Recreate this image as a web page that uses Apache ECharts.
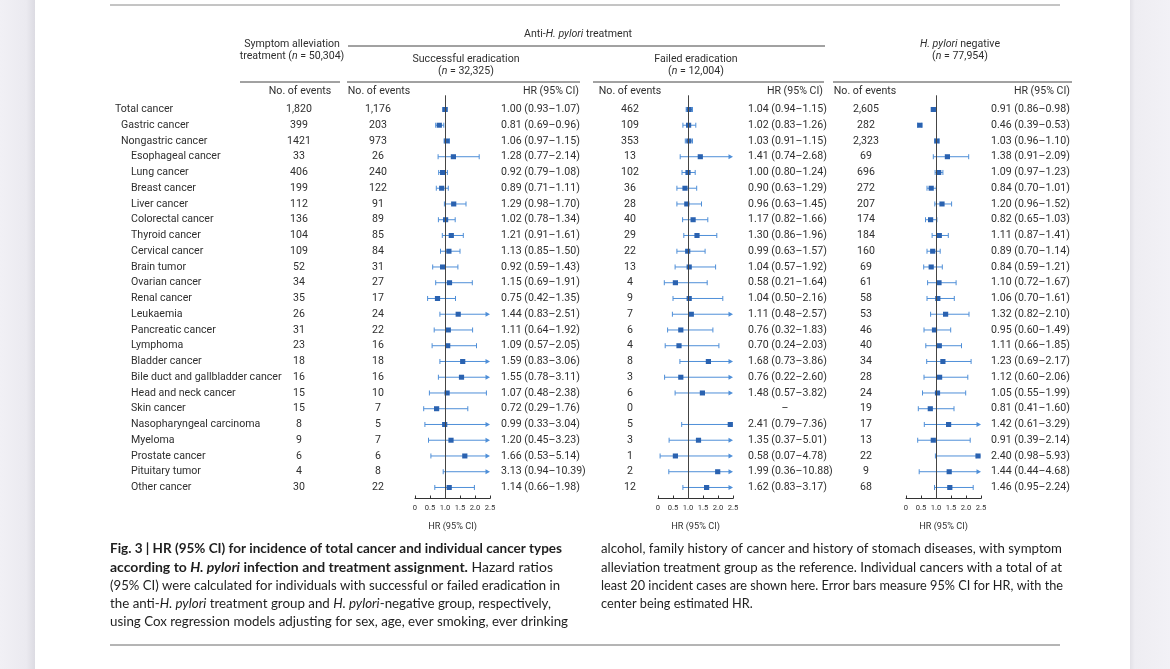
<!DOCTYPE html>
<html><head><meta charset="utf-8">
<script src="https://cdn.jsdelivr.net/npm/echarts@6/dist/echarts.min.js"></script>
<style>html,body{margin:0;padding:0;background:#fff}#c{width:1170px;height:669px}</style>
</head><body><div id="c"></div>
<script>
// ---------------- DATA ----------------
const cancerTypes = ['Total cancer','Gastric cancer','Nongastric cancer','Esophageal cancer','Lung cancer','Breast cancer','Liver cancer','Colorectal cancer','Thyroid cancer','Cervical cancer','Brain tumor','Ovarian cancer','Renal cancer','Leukaemia','Pancreatic cancer','Lymphoma','Bladder cancer','Bile duct and gallbladder cancer','Head and neck cancer','Skin cancer','Nasopharyngeal carcinoma','Myeloma','Prostate cancer','Pituitary tumor','Other cancer'];
const indentLevels = [0,1,1,2,2,2,2,2,2,2,2,2,2,2,2,2,2,2,2,2,2,2,2,2,2];
const symptomEvents = ['1,820','399','1421','33','406','199','112','136','104','109','52','34','35','26','31','23','18','16','15','15','8','9','6','4','30'];
const successEvents = ['1,176','203','973','26','240','122','91','89','85','84','31','27','17','24','22','16','18','16','10','7','5','7','6','8','22'];
const successHR = [[1.00,0.93,1.07],[0.81,0.69,0.96],[1.06,0.97,1.15],[1.28,0.77,2.14],[0.92,0.79,1.08],[0.89,0.71,1.11],[1.29,0.98,1.70],[1.02,0.78,1.34],[1.21,0.91,1.61],[1.13,0.85,1.50],[0.92,0.59,1.43],[1.15,0.69,1.91],[0.75,0.42,1.35],[1.44,0.83,2.51],[1.11,0.64,1.92],[1.09,0.57,2.05],[1.59,0.83,3.06],[1.55,0.78,3.11],[1.07,0.48,2.38],[0.72,0.29,1.76],[0.99,0.33,3.04],[1.20,0.45,3.23],[1.66,0.53,5.14],[3.13,0.94,10.39],[1.14,0.66,1.98]];
const failedEvents = ['462','109','353','13','102','36','28','40','29','22','13','4','9','7','6','4','8','3','6','0','5','3','1','2','12'];
const failedHR = [[1.04,0.94,1.15],[1.02,0.83,1.26],[1.03,0.91,1.15],[1.41,0.74,2.68],[1.00,0.80,1.24],[0.90,0.63,1.29],[0.96,0.63,1.45],[1.17,0.82,1.66],[1.30,0.86,1.96],[0.99,0.63,1.57],[1.04,0.57,1.92],[0.58,0.21,1.64],[1.04,0.50,2.16],[1.11,0.48,2.57],[0.76,0.32,1.83],[0.70,0.24,2.03],[1.68,0.73,3.86],[0.76,0.22,2.60],[1.48,0.57,3.82],null,[2.41,0.79,7.36],[1.35,0.37,5.01],[0.58,0.07,4.78],[1.99,0.36,10.88],[1.62,0.83,3.17]];
const negativeEvents = ['2,605','282','2,323','69','696','272','207','174','184','160','69','61','58','53','46','40','34','28','24','19','17','13','22','9','68'];
const negativeHR = [[0.91,0.86,0.98],[0.46,0.39,0.53],[1.03,0.96,1.10],[1.38,0.91,2.09],[1.09,0.97,1.23],[0.84,0.70,1.01],[1.20,0.96,1.52],[0.82,0.65,1.03],[1.11,0.87,1.41],[0.89,0.70,1.14],[0.84,0.59,1.21],[1.10,0.72,1.67],[1.06,0.70,1.61],[1.32,0.82,2.10],[0.95,0.60,1.49],[1.11,0.66,1.85],[1.23,0.69,2.17],[1.12,0.60,2.06],[1.05,0.55,1.99],[0.81,0.41,1.60],[1.42,0.61,3.29],[0.91,0.39,2.14],[2.40,0.98,5.93],[1.44,0.44,4.68],[1.46,0.95,2.24]];
const hrTickLabels = ['0','0.5','1.0','1.5','2.0','2.5'];
const hrAxisMax = 2.5;

// ---------------- STYLE / LAYOUT ----------------
const FONT = 'Roboto';
const FS = 10.6;
const TXT = '#2f2f2f';
const LINE_BLUE = '#4f8fd8';
const MARK_BLUE = '#2a62b0';
const gridTop = 95.3, gridHeight = 403.2;
const panelLefts = [415, 658, 906];
const panelWidth = 75;

function hrText(h){ return h ? h[0].toFixed(2)+' ('+h[1].toFixed(2)+'\u2013'+h[2].toFixed(2)+')' : null; }

function forestItem(params, api){
  const row = api.value(0), hr = api.value(1), lo = api.value(2), hi = api.value(3);
  const pLo = api.coord([lo,row]);
  const pHi = api.coord([Math.min(hi,hrAxisMax),row]);
  const y = pLo[1];
  const ch = [];
  const arrow = hi > hrAxisMax;
  ch.push({type:'line',shape:{x1:pLo[0],y1:y,x2:arrow?pHi[0]-3:pHi[0],y2:y},style:{stroke:LINE_BLUE,lineWidth:1}});
  ch.push({type:'line',shape:{x1:pLo[0],y1:y-2.5,x2:pLo[0],y2:y+2.5},style:{stroke:LINE_BLUE,lineWidth:1}});
  if(arrow){
    ch.push({type:'polygon',shape:{points:[[pHi[0],y],[pHi[0]-4.5,y-2.6],[pHi[0]-4.5,y+2.6]]},style:{fill:LINE_BLUE}});
  } else {
    ch.push({type:'line',shape:{x1:pHi[0],y1:y-2.5,x2:pHi[0],y2:y+2.5},style:{stroke:LINE_BLUE,lineWidth:1}});
  }
  if(hr <= hrAxisMax){
    const p = api.coord([hr,row]);
    ch.push({type:'rect',shape:{x:p[0]-2.6,y:y-2.5,width:5.2,height:5},style:{fill:MARK_BLUE}});
  }
  return {type:'group',children:ch};
}

function txt(x,y,text,align,extra){
  return Object.assign({type:'text',x:x,y:y,silent:true,style:{text:text,fill:TXT,fontSize:FS,fontFamily:FONT,align:align||'left',textAlign:align||'left',verticalAlign:'middle',textVerticalAlign:'middle'}},extra||{});
}

function tableItem(params, api){
  const i = api.value(1);
  const y = api.coord([0,i])[1];
  const ch = [];
  const indentX = [115,121,131];
  ch.push(txt(indentX[indentLevels[i]], y, cancerTypes[i], 'left'));
  ch.push(txt(299, y, symptomEvents[i], 'center'));
  ch.push(txt(378, y, successEvents[i], 'center'));
  ch.push(txt(501, y, hrText(successHR[i]), 'left'));
  ch.push(txt(630, y, failedEvents[i], 'center'));
  const ft = hrText(failedHR[i]);
  ch.push(ft ? txt(748, y, ft, 'left') : txt(785, y, '\u2013', 'center'));
  ch.push(txt(866, y, negativeEvents[i], 'center'));
  ch.push(txt(991, y, hrText(negativeHR[i]), 'left'));
  return {type:'group',children:ch};
}

const hrSets = [successHR, failedHR, negativeHR];
const grids = panelLefts.map(l => ({left:l,width:panelWidth,top:gridTop,height:gridHeight,outerBoundsMode:'none',containLabel:false}));
const xAxes = panelLefts.map((l,k) => ({
  type:'value',gridIndex:k,position:'bottom',min:0,max:hrAxisMax,interval:0.5,
  axisLine:{show:true,onZero:false,lineStyle:{color:'#333',width:1}},
  axisTick:{show:true,inside:true,length:3,lineStyle:{color:'#333'}},
  axisLabel:{fontSize:7.6,color:'#333',fontFamily:FONT,margin:6,formatter:v=>hrTickLabels[Math.round(v/0.5)]},
  splitLine:{show:false},
  name:'HR (95% CI)',nameLocation:'middle',nameGap:24,nameTextStyle:{fontSize:9.2,color:'#333',fontFamily:FONT}
}));
const yAxes = panelLefts.map((l,k) => ({type:'value',gridIndex:k,inverse:true,min:-0.9,max:24.7,show:false}));

const series = hrSets.map((set,k) => ({
  type:'custom',xAxisIndex:k,yAxisIndex:k,clip:false,silent:true,
  dimensions:['row','hr','lo','hi'],encode:{x:[1,2,3],y:0},
  data:set.map((h,i)=>h?[i,h[0],h[1],h[2]]:null).filter(d=>d),
  renderItem:forestItem,z:3,
  markLine:{silent:true,symbol:'none',label:{show:false},lineStyle:{color:'#444',width:1,type:'solid'},data:[{xAxis:1}],animation:false}
}));
series.push({
  type:'custom',xAxisIndex:0,yAxisIndex:0,clip:false,silent:true,
  data:cancerTypes.map((c,i)=>[0,i]),encode:{x:0,y:1},renderItem:tableItem,z:4
});

// ---------------- HEADERS / DECOR ----------------
const hdrRich = {r:{fontSize:FS,fontFamily:FONT,fill:TXT,color:TXT},i:{fontSize:FS,fontFamily:FONT,fontStyle:'italic',fill:TXT,color:TXT}};
function htxt(x,y,text,align){ const e = txt(x,y,text,align); e.style.rich = hdrRich; return e; }
function hline(x1,x2,y,color){ return {type:'line',silent:true,shape:{x1:x1,y1:y,x2:x2,y2:y},style:{stroke:color||'#444',lineWidth:1}}; }

const graphics = [
  {type:'rect',silent:true,shape:{x:0,y:0,width:35,height:669},style:{fill:new echarts.graphic.LinearGradient(0,0,1,0,[{offset:0,color:'#f1f0f5'},{offset:0.75,color:'#ebeaf0'},{offset:1,color:'#dcdbe2'}])},z:-1},
  {type:'rect',silent:true,shape:{x:1130,y:0,width:40,height:669},style:{fill:new echarts.graphic.LinearGradient(0,0,1,0,[{offset:0,color:'#e2e1e7'},{offset:0.12,color:'#eeedf2'},{offset:1,color:'#f2f1f6'}])},z:-1},
  hline(110,1060,5,'#8a8a8a'),
  hline(110,1060,645,'#6a6a6a'),
  htxt(292,44,'{r|Symptom alleviation}','center'),
  htxt(292,56,'{r|treatment (}{i|n}{r| = 50,304)}','center'),
  htxt(578,34,'{r|Anti-}{i|H. pylori}{r| treatment}','center'),
  hline(348,825,46),
  htxt(466,59,'{r|Successful eradication}','center'),
  htxt(466,71,'{r|(}{i|n}{r| = 32,325)}','center'),
  htxt(696,59,'{r|Failed eradication}','center'),
  htxt(696,71,'{r|(}{i|n}{r| = 12,004)}','center'),
  htxt(960,44,'{i|H. pylori}{r| negative}','center'),
  htxt(960,56,'{r|(}{i|n}{r| = 77,954)}','center'),
  hline(240,340,82), hline(347,580,82), hline(593,824,82), hline(833,1072,82),
  txt(300,91,'No. of events','center'),
  txt(379,91,'No. of events','center'),
  txt(579,91,'HR (95% CI)','right'),
  txt(630,91,'No. of events','center'),
  txt(823,91,'HR (95% CI)','right'),
  txt(865,91,'No. of events','center'),
  txt(1070,91,'HR (95% CI)','right')
];

// ---------------- CAPTION ----------------
const capFont = 'Lato', capSize = 13.5;
const captionLeft = [
  [['b','Fig. 3 | HR (95% CI) for incidence of total cancer and individual cancer types']],
  [['b','according to '],['bi','H. pylori'],['b',' infection and treatment assignment.'],['r',' Hazard ratios']],
  [['r','(95% CI) were calculated for individuals with successful or failed eradication in']],
  [['r','the anti-'],['i','H. pylori'],['r',' treatment group and '],['i','H. pylori'],['r','-negative group, respectively,']],
  [['r','using Cox regression models adjusting for sex, age, ever smoking, ever drinking']]
];
const captionRight = [
  [['r','alcohol, family history of cancer and history of stomach diseases, with symptom']],
  [['r','alleviation treatment group as the reference. Individual cancers with a total of at']],
  [['r','least 20 incident cases are shown here. Error bars measure 95% CI for HR, with the']],
  [['r','center being estimated HR.']]
];
const capWidthsL = [452,443,450,441,458];
const capWidthsR = [461,461,462,null];
const capY = [549,567.5,586,604,622];
const mctx = document.createElement('canvas').getContext('2d');
function segFont(s){ return (s==='i'||s==='bi'?'italic ':'')+(s==='b'||s==='bi'?'bold ':'')+capSize+'px '+capFont; }
function measure(line){ let w=0; line.forEach(([s,t])=>{ mctx.font=segFont(s); w+=mctx.measureText(t).width; }); return w; }
const capRich = {
  r:{fontSize:capSize,fontFamily:capFont,fill:'#1e1e1e',color:'#1e1e1e'},
  b:{fontSize:capSize,fontFamily:capFont,fontWeight:'bold',fill:'#1e1e1e',color:'#1e1e1e'},
  i:{fontSize:capSize,fontFamily:capFont,fontStyle:'italic',fill:'#1e1e1e',color:'#1e1e1e'},
  bi:{fontSize:capSize,fontFamily:capFont,fontWeight:'bold',fontStyle:'italic',fill:'#1e1e1e',color:'#1e1e1e'}
};
function addCaption(lines, widths, x){
  let lastScale = 0.85;
  lines.forEach((line,k)=>{
    const w = measure(line);
    const sc = widths[k] ? widths[k]/w : lastScale;
    lastScale = sc;
    graphics.push({type:'text',x:x,y:capY[k],scaleX:sc,silent:true,
      style:{text:line.map(([s,t])=>'{'+s+'|'+t+'}').join(''),rich:capRich,fontSize:capSize,fontFamily:capFont,fill:'#1e1e1e',align:'left',textAlign:'left',verticalAlign:'middle',textVerticalAlign:'middle'}});
  });
}
addCaption(captionLeft, capWidthsL, 110);
addCaption(captionRight, capWidthsR, 601);

const chart = echarts.init(document.getElementById('c'));
chart.setOption({
  backgroundColor:'#ffffff',
  animation:false,
  grid:grids, xAxis:xAxes, yAxis:yAxes, series:series,
  graphic:{elements:graphics}
});
</script></body></html>
